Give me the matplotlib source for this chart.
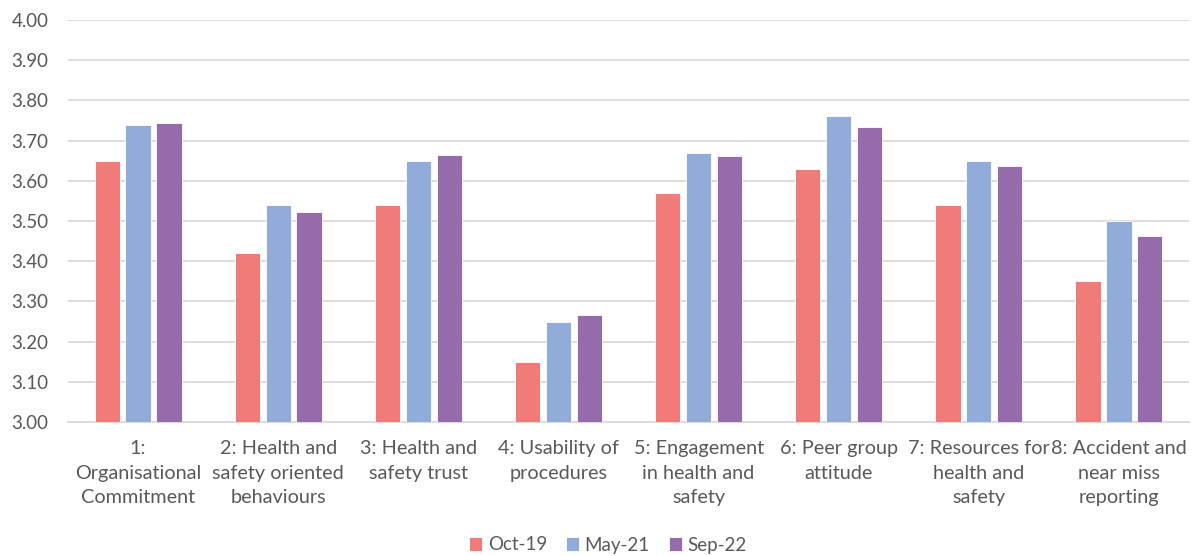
import numpy as np
import matplotlib
matplotlib.use("Agg")
import matplotlib.pyplot as plt

categories = ["1:\nOrganisational\nCommitment",
              "2: Health and\nsafety oriented\nbehaviours",
              "3: Health and\nsafety trust",
              "4: Usability of\nprocedures",
              "5: Engagement\nin health and\nsafety",
              "6: Peer group\nattitude",
              "7: Resources for\nhealth and\nsafety",
              "8: Accident and\nnear miss\nreporting"]
series = ["Oct-19", "May-21", "Sep-22"]
oct19 = [3.65, 3.42, 3.54, 3.15, 3.57, 3.63, 3.54, 3.35]
may21 = [3.74, 3.54, 3.65, 3.25, 3.67, 3.76, 3.65, 3.50]
sep22 = [3.744, 3.522, 3.665, 3.267, 3.661, 3.734, 3.636, 3.462]
colors = ["#F07B78", "#92ACDA", "#956BAB"]

plt.rcParams["font.family"] = ["Lato", "DejaVu Sans"]

fig = plt.figure(figsize=(11.99, 5.56), dpi=100)
ax = fig.add_axes([68 / 1199, 1 - 422 / 556, 1121 / 1199, 402 / 556])

x = np.arange(len(categories))
w = 0.18
step = 0.22
for i, (vals, lab, c) in enumerate(zip([oct19, may21, sep22], series, colors)):
    ax.bar(x + (i - 1) * step, np.array(vals) - 3.0, bottom=3.0, width=w,
           color=c, edgecolor="white", linewidth=0.6, label=lab, zorder=3)

ax.set_xlim(-0.5, len(categories) - 0.5)
ax.set_ylim(3.0, 4.0)
ax.set_yticks(np.arange(3.0, 4.001, 0.1))
ax.set_yticklabels([f"{v:.2f}" for v in np.arange(3.0, 4.001, 0.1)])
ax.yaxis.grid(True, color="#D9D9D9", linewidth=1.3, zorder=0)
ax.set_axisbelow(True)
for s in ["top", "right", "left"]:
    ax.spines[s].set_visible(False)
ax.spines["bottom"].set_color("#D9D9D9")
ax.spines["bottom"].set_linewidth(1.3)
ax.tick_params(axis="both", length=0, labelsize=13.5, colors="#595959")
ax.tick_params(axis="y", pad=14)
ax.tick_params(axis="x", pad=13, labelsize=14.3)
ax.set_xticks(x)
ax.set_xticklabels(categories, linespacing=1.55)

leg = fig.legend(loc="center", bbox_to_anchor=(608 / 1199, 1 - 545 / 556), ncol=3,
                 frameon=False, fontsize=13.5, handlelength=0.7, handleheight=0.7,
                 handletextpad=0.3, columnspacing=1.0)
for t in leg.get_texts():
    t.set_color("#595959")

fig.savefig("out.png", dpi=100)
